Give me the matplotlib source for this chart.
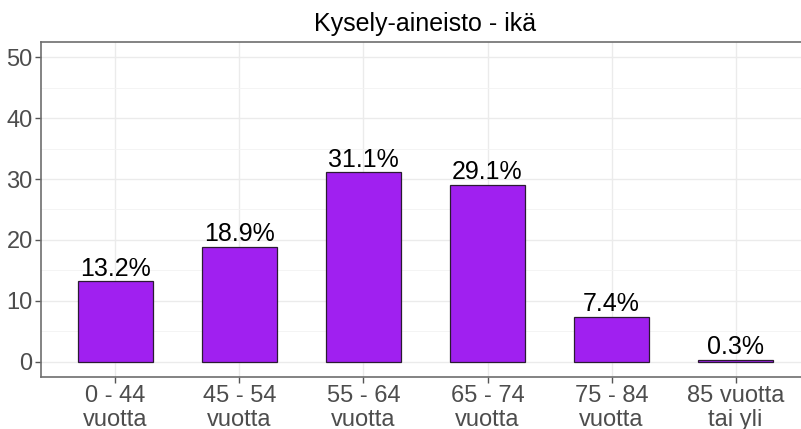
import matplotlib
matplotlib.use("Agg")
import matplotlib.pyplot as plt
from matplotlib.ticker import MultipleLocator

# data
categories = ["0 - 44\nvuotta", "45 - 54\nvuotta", "55 - 64\nvuotta",
              "65 - 74\nvuotta", "75 - 84\nvuotta", "85 vuotta\ntai yli"]
shares = [13.2, 18.9, 31.1, 29.1, 7.4, 0.3]
yticks = [0, 10, 20, 30, 40, 50]

plt.rcParams["font.family"] = ["Liberation Sans", "DejaVu Sans"]

fig = plt.figure(figsize=(8.01, 4.29), dpi=100)
ax = fig.add_axes([41 / 801, 52 / 429, 769 / 801, 335 / 429])

x = list(range(1, len(categories) + 1))
ax.bar(x, shares, width=0.6, color="#A020F0", edgecolor="#2b1a33",
       linewidth=0.9, zorder=3)

for xi, v in zip(x, shares):
    ax.annotate(f"{v:.1f}%", (xi, v), xytext=(0, 4), textcoords="offset points",
                ha="center", va="baseline", fontsize=18, color="black", zorder=4)

ax.set_xlim(0.4, 6.6)
ax.set_ylim(-2.5, 52.5)
ax.set_xticks(x)
ax.set_xticklabels(categories, linespacing=1.1)
ax.set_yticks(yticks)
ax.yaxis.set_minor_locator(MultipleLocator(5))

ax.grid(True, which="major", color="#EBEBEB", linewidth=1.0, zorder=0)
ax.grid(True, which="minor", axis="y", color="#F3F3F3", linewidth=0.6, zorder=0)
ax.set_axisbelow(True)

ax.tick_params(axis="both", which="major", labelsize=17, labelcolor="#4D4D4D",
               color="#555555", length=4, width=1, pad=2)
ax.tick_params(axis="y", which="minor", length=0)

for side in ["left", "bottom", "top"]:
    ax.spines[side].set_color("#6e6e6e")
    ax.spines[side].set_linewidth(1.2)
ax.spines["right"].set_visible(False)

ax.set_title("Kysely-aineisto - ikä", fontsize=18, color="black", pad=8)

fig.savefig("out.png", dpi=100)
